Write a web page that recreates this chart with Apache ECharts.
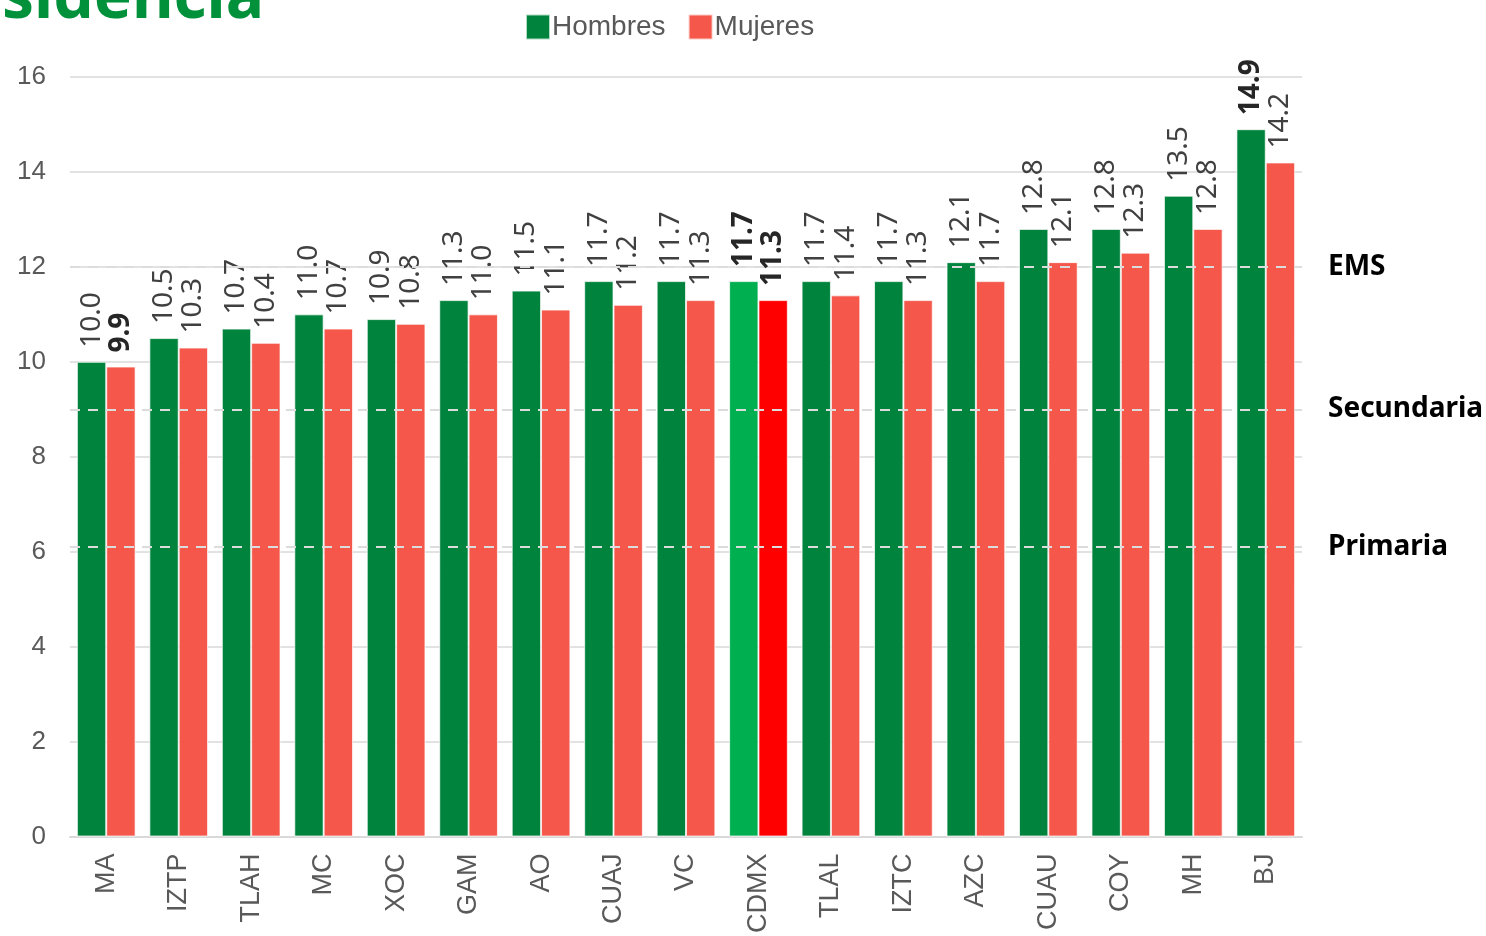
<!DOCTYPE html>
<html>
<head>
<meta charset="utf-8">
<script src="https://cdn.jsdelivr.net/npm/echarts@6/dist/echarts.min.js"></script>
<style>
  html, body { margin: 0; padding: 0; background: #fff; }
  #chart { width: 1486px; height: 936px; }
</style>
</head>
<body>
<div id="chart"></div>
<script>
// datos por alcaldía
const categories = ["MA", "IZTP", "TLAH", "MC", "XOC", "GAM", "AO", "CUAJ", "VC", "CDMX", "TLAL", "IZTC", "AZC", "CUAU", "COY", "MH", "BJ"];
const hombres = [10.0, 10.5, 10.7, 11.0, 10.9, 11.3, 11.5, 11.7, 11.7, 11.7, 11.7, 11.7, 12.1, 12.8, 12.8, 13.5, 14.9];
const mujeres = [9.9, 10.3, 10.4, 10.7, 10.8, 11.0, 11.1, 11.2, 11.3, 11.3, 11.4, 11.3, 11.7, 12.1, 12.3, 12.8, 14.2];
const niveles = [
  { name: "EMS", value: 12 },
  { name: "Secundaria", value: 9 },
  { name: "Primaria", value: 6.1 }
];
const yTicks = [0, 2, 4, 6, 8, 10, 12, 14, 16];

const VERDE = "#00843d", ROJO = "#f5574a";
const CDMX = "CDMX";
const boldH = ["CDMX", "BJ"];
const boldM = ["MA", "CDMX"];

const labelBase = {
  show: true,
  position: "top",
  rotate: 90,
  align: "left",
  verticalAlign: "middle",
  distance: 14,
  fontFamily: "Noto Sans",
  fontSize: 28,
  color: "#404040",
  formatter: p => p.value.toFixed(1)
};

function buildData(vals, highlight, boldList) {
  return vals.map((v, i) => {
    const item = { value: v };
    if (categories[i] === CDMX) item.itemStyle = { color: highlight };
    if (boldList.includes(categories[i])) {
      item.label = { fontWeight: "bold", color: "#262626" };
    }
    return item;
  });
}

const chart = echarts.init(document.getElementById("chart"));
chart.setOption({
  animation: false,
  graphic: [{
    type: "text",
    right: 1486 - 264,
    top: -32,
    style: {
      text: "sidencia",
      font: "bold 64px 'Noto Sans'",
      fill: "#00913a"
    }
  }],
  legend: {
    top: 8,
    left: 520,
    itemWidth: 24,
    itemHeight: 25,
    itemGap: 22,
    icon: "rect",
    textStyle: { fontFamily: "Liberation Sans", fontSize: 28, color: "#595959", padding: [0, 0, 0, -3] },
    data: ["Hombres", "Mujeres"]
  },
  grid: { left: 70, right: 184, top: 77, bottom: 98 },
  xAxis: {
    type: "category",
    data: categories,
    axisTick: { show: false },
    axisLine: { lineStyle: { color: "#d9d9d9", width: 2 } },
    axisLabel: {
      interval: 0,
      rotate: 90,
      margin: 17,
      fontFamily: "Liberation Sans",
      fontSize: 27,
      color: "#595959"
    }
  },
  yAxis: {
    type: "value",
    min: yTicks[0],
    max: yTicks[yTicks.length - 1],
    interval: 2,
    axisLine: { show: false },
    axisTick: { show: false },
    splitLine: { lineStyle: { color: "#d9d9d9", width: 1.5 } },
    axisLabel: {
      margin: 24,
      fontFamily: "Liberation Sans",
      fontSize: 26,
      color: "#595959"
    }
  },
  series: [
    {
      name: "Hombres",
      type: "bar",
      barGap: "0%",
      barCategoryGap: "19%",
      itemStyle: { color: VERDE, borderColor: "rgba(255,255,255,0.7)", borderWidth: 1 },
      label: labelBase,
      data: buildData(hombres, "#00b050", boldH)
    },
    {
      name: "Mujeres",
      type: "bar",
      z: 2,
      itemStyle: { color: ROJO, borderColor: "rgba(255,255,255,0.7)", borderWidth: 1 },
      label: labelBase,
      data: buildData(mujeres, "#ff0000", boldM),
      markLine: {
        silent: true,
        symbol: "none",
        z: 5,
        lineStyle: { type: [10, 8], color: "#dcdcdc", width: 2 },
        label: {
          show: true,
          position: "end",
          distance: 26,
          formatter: p => p.name,
          fontFamily: "Noto Sans",
          fontWeight: "bold",
          fontSize: 28,
          color: "#000"
        },
        data: niveles.map(n => ({ name: n.name, yAxis: n.value }))
      }
    }
  ]
});
</script>
</body>
</html>
